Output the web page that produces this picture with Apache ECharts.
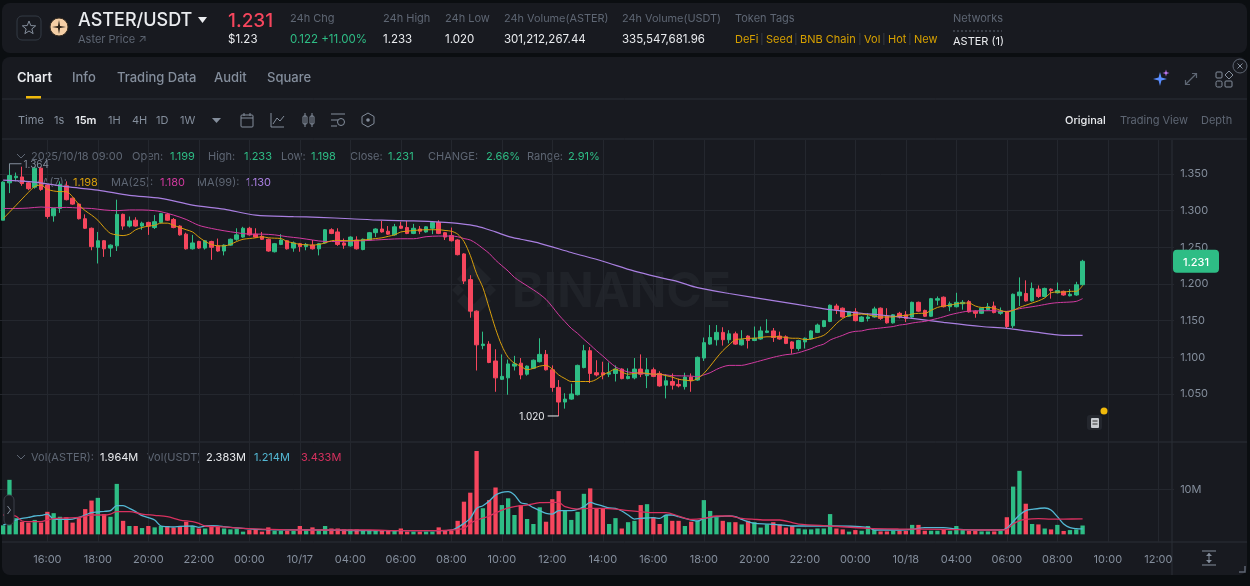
<!DOCTYPE html>
<html><head><meta charset="utf-8">
<style>html,body{margin:0;padding:0;background:#0b0e11;overflow:hidden}#c{width:1250px;height:586px}</style>
<script src="https://cdn.jsdelivr.net/npm/echarts@6/dist/echarts.min.js"></script>
</head><body><div id="c"></div>
<script>
const opens=[1.287,1.338,1.345,1.346,1.338,1.332,1.358,1.335,1.293,1.303,1.334,1.317,1.309,1.289,1.276,1.250,1.259,1.249,1.252,1.295,1.279,1.287,1.279,1.284,1.277,1.284,1.295,1.288,1.279,1.268,1.248,1.258,1.249,1.258,1.252,1.245,1.253,1.261,1.264,1.276,1.268,1.265,1.261,1.244,1.254,1.259,1.249,1.255,1.251,1.253,1.248,1.256,1.274,1.271,1.256,1.252,1.260,1.247,1.260,1.270,1.275,1.272,1.267,1.279,1.277,1.269,1.275,1.271,1.276,1.284,1.270,1.266,1.260,1.241,1.206,1.163,1.116,1.118,1.095,1.070,1.072,1.088,1.092,1.077,1.085,1.094,1.104,1.083,1.059,1.039,1.043,1.049,1.086,1.109,1.079,1.079,1.077,1.078,1.084,1.071,1.072,1.084,1.075,1.083,1.078,1.062,1.067,1.063,1.060,1.073,1.069,1.099,1.118,1.124,1.134,1.124,1.132,1.117,1.129,1.123,1.125,1.134,1.136,1.129,1.128,1.121,1.112,1.121,1.125,1.134,1.142,1.149,1.170,1.167,1.156,1.162,1.149,1.153,1.155,1.167,1.156,1.147,1.160,1.158,1.155,1.175,1.164,1.156,1.178,1.182,1.169,1.169,1.173,1.176,1.163,1.160,1.165,1.170,1.160,1.162,1.143,1.184,1.187,1.177,1.193,1.183,1.193,1.188,1.190,1.184,1.185,1.199];
const closes=[1.339,1.348,1.347,1.337,1.330,1.358,1.329,1.292,1.303,1.336,1.315,1.309,1.289,1.276,1.251,1.259,1.248,1.253,1.295,1.279,1.286,1.279,1.283,1.279,1.285,1.296,1.287,1.277,1.267,1.248,1.256,1.249,1.259,1.250,1.245,1.253,1.261,1.267,1.276,1.267,1.264,1.261,1.245,1.255,1.260,1.248,1.256,1.251,1.254,1.248,1.255,1.274,1.269,1.254,1.253,1.264,1.248,1.261,1.270,1.275,1.271,1.268,1.278,1.276,1.269,1.276,1.272,1.278,1.284,1.269,1.264,1.259,1.240,1.204,1.163,1.117,1.118,1.093,1.072,1.074,1.091,1.091,1.076,1.088,1.096,1.104,1.083,1.059,1.039,1.043,1.050,1.089,1.109,1.078,1.076,1.076,1.079,1.084,1.071,1.074,1.084,1.077,1.083,1.074,1.061,1.068,1.062,1.061,1.073,1.068,1.100,1.120,1.127,1.134,1.124,1.132,1.118,1.124,1.123,1.126,1.136,1.136,1.127,1.125,1.119,1.112,1.123,1.126,1.136,1.144,1.150,1.171,1.165,1.155,1.162,1.150,1.155,1.155,1.166,1.153,1.147,1.158,1.155,1.153,1.175,1.163,1.156,1.180,1.180,1.169,1.173,1.175,1.175,1.162,1.160,1.167,1.169,1.161,1.163,1.142,1.186,1.189,1.177,1.194,1.183,1.194,1.191,1.191,1.185,1.186,1.199,1.231];
const lows=[1.287,1.324,1.340,1.334,1.328,1.330,1.327,1.289,1.285,1.297,1.314,1.308,1.288,1.275,1.246,1.228,1.237,1.237,1.245,1.274,1.277,1.278,1.274,1.267,1.275,1.283,1.286,1.276,1.266,1.247,1.247,1.248,1.247,1.233,1.244,1.239,1.252,1.259,1.263,1.266,1.263,1.260,1.244,1.243,1.253,1.247,1.244,1.244,1.246,1.247,1.239,1.255,1.268,1.252,1.248,1.251,1.247,1.246,1.259,1.264,1.270,1.267,1.266,1.275,1.268,1.268,1.268,1.270,1.268,1.268,1.260,1.258,1.239,1.200,1.154,1.082,1.111,1.092,1.053,1.069,1.049,1.082,1.070,1.075,1.084,1.093,1.082,1.053,1.020,1.030,1.042,1.048,1.085,1.065,1.074,1.070,1.073,1.067,1.070,1.070,1.070,1.073,1.058,1.073,1.060,1.044,1.056,1.059,1.056,1.053,1.068,1.095,1.117,1.116,1.116,1.119,1.117,1.116,1.112,1.122,1.124,1.133,1.121,1.124,1.118,1.105,1.109,1.112,1.124,1.133,1.141,1.148,1.159,1.154,1.155,1.149,1.148,1.149,1.154,1.151,1.146,1.146,1.153,1.148,1.154,1.162,1.155,1.155,1.171,1.168,1.163,1.168,1.165,1.161,1.154,1.159,1.164,1.160,1.158,1.139,1.140,1.170,1.176,1.176,1.181,1.182,1.180,1.187,1.184,1.183,1.184,1.198];
const highs=[1.340,1.364,1.352,1.360,1.340,1.360,1.360,1.336,1.304,1.340,1.340,1.318,1.310,1.295,1.277,1.271,1.260,1.254,1.315,1.296,1.292,1.291,1.285,1.285,1.294,1.297,1.297,1.290,1.280,1.270,1.267,1.259,1.260,1.259,1.262,1.254,1.262,1.276,1.278,1.278,1.276,1.271,1.262,1.256,1.268,1.260,1.258,1.256,1.256,1.260,1.256,1.275,1.276,1.276,1.262,1.265,1.265,1.262,1.271,1.276,1.286,1.279,1.282,1.285,1.286,1.282,1.279,1.279,1.285,1.287,1.271,1.277,1.261,1.242,1.212,1.164,1.135,1.122,1.111,1.104,1.097,1.102,1.099,1.089,1.097,1.126,1.110,1.089,1.069,1.051,1.064,1.090,1.117,1.114,1.096,1.094,1.093,1.089,1.085,1.085,1.099,1.104,1.099,1.086,1.081,1.077,1.078,1.071,1.079,1.078,1.101,1.127,1.144,1.144,1.141,1.137,1.135,1.137,1.130,1.142,1.142,1.152,1.140,1.135,1.130,1.122,1.124,1.127,1.137,1.146,1.151,1.172,1.173,1.168,1.163,1.167,1.156,1.160,1.169,1.168,1.167,1.159,1.162,1.163,1.176,1.176,1.165,1.181,1.183,1.183,1.176,1.188,1.178,1.178,1.164,1.168,1.174,1.176,1.168,1.163,1.187,1.209,1.205,1.202,1.198,1.195,1.194,1.202,1.191,1.193,1.203,1.233];
const volumes=[2.0,12.1,3.6,2.8,2.6,3.2,2.6,5.0,4.7,3.9,3.8,2.6,3.6,5.6,7.5,8.1,4.5,3.9,11.2,3.0,1.85,1.85,1.4,1.85,1.55,1.85,1.85,1.5,1.85,2.8,1.85,1.3,1.3,1.7,1.7,1.3,1.1,1.25,0.6,0.95,1.1,0.6,1.55,0.8,0.8,0.8,0.8,1.85,1.1,1.55,0.95,1.85,1.3,1.3,1.1,1.1,1.1,0.8,0.8,0.8,0.8,0.8,0.8,1.3,0.6,0.6,0.6,0.6,0.6,1.55,0.8,0.8,3.0,7.25,9.25,18.5,5.8,7.6,10.4,6.5,8.0,4.3,6.5,3.4,2.3,6.0,2.8,7.8,9.6,5.4,3.2,5.0,9.0,10.2,5.8,5.8,2.3,3.6,1.3,2.7,3.0,6.5,6.7,3.8,2.3,4.3,3.0,3.0,1.85,2.8,3.0,7.6,5.2,3.8,3.0,2.7,2.7,2.2,3.0,2.7,1.5,2.2,2.7,2.2,1.5,1.85,1.3,1.1,1.1,1.3,1.3,4.5,1.3,1.1,0.6,0.95,0.8,1.85,0.95,0.65,0.65,0.8,0.8,0.8,2.1,2.1,0.8,0.8,0.8,1.1,0.8,1.85,0.95,0.8,0.8,0.65,0.65,0.65,0.8,3.8,10.6,14.1,6.8,2.3,2.2,1.3,1.1,2.1,0.75,0.95,1.1,1.96];
// moving-average readings: [bar number, value]
const ma7=[[0,1.289],[1,1.298],[2,1.307],[3,1.316],[4,1.325],[5,1.333],[6,1.335],[7,1.329],[9,1.326],[10,1.326],[11,1.319],[12,1.308],[13,1.300],[14,1.294],[15,1.287],[16,1.277],[17,1.269],[18,1.267],[19,1.266],[20,1.268],[21,1.274],[22,1.277],[23,1.279],[24,1.280],[25,1.283],[26,1.283],[27,1.280],[28,1.277],[29,1.274],[30,1.271],[31,1.264],[32,1.258],[33,1.254],[34,1.252],[35,1.252],[36,1.254],[37,1.258],[38,1.261],[39,1.262],[40,1.263],[41,1.2645],[42,1.263],[43,1.2625],[44,1.262],[45,1.258],[46,1.256],[47,1.254],[48,1.2535],[49,1.253],[50,1.254],[51,1.256],[52,1.259],[53,1.2595],[55,1.259],[57,1.260],[58,1.261],[59,1.262],[60,1.263],[61,1.265],[62,1.267],[63,1.271],[64,1.272],[65,1.273],[67,1.274],[69,1.274],[70,1.273],[71,1.272],[72,1.268],[73,1.258],[74,1.239],[75,1.214],[76,1.195],[77,1.167],[78,1.139],[79,1.116],[80,1.100],[81,1.092],[82,1.088],[83,1.083],[84,1.085],[85,1.088],[86,1.089],[87,1.084],[88,1.076],[89,1.071],[90,1.067],[93,1.067],[94,1.070],[95,1.076],[96,1.080],[97,1.084],[98,1.080],[99,1.077],[100,1.078],[101,1.079],[102,1.078],[103,1.077],[104,1.077],[105,1.075],[106,1.073],[107,1.070],[108,1.069],[109,1.068],[110,1.071],[111,1.078],[112,1.088],[113,1.099],[114,1.109],[115,1.117],[116,1.124],[117,1.125],[118,1.126],[119,1.126],[120,1.127],[121,1.128],[123,1.128],[124,1.127],[125,1.126],[126,1.126],[127,1.124],[128,1.125],[129,1.127],[130,1.130],[131,1.137],[132,1.146],[133,1.153],[134,1.157],[135,1.158],[136,1.159],[137,1.158],[138,1.156],[139,1.155],[141,1.155],[142,1.157],[143,1.157],[144,1.159],[145,1.160],[146,1.160],[147,1.164],[148,1.168],[149,1.170],[150,1.171],[151,1.173],[152,1.174],[153,1.174],[154,1.170],[155,1.168],[156,1.168],[157,1.167],[158,1.164],[159,1.162],[160,1.164],[161,1.168],[162,1.171],[163,1.174],[164,1.177],[165,1.181],[166,1.188],[167,1.189],[168,1.189],[169,1.190],[170,1.190],[171,1.198]];
const ma25=[[0,1.303],[2,1.303],[4,1.3036],[6,1.305],[8,1.304],[10,1.3045],[12,1.3036],[14,1.303],[16,1.301],[18,1.300],[20,1.301],[22,1.301],[24,1.300],[25,1.2986],[27,1.294],[29,1.288],[31,1.280],[33,1.2758],[35,1.2726],[37,1.270],[39,1.268],[41,1.268],[43,1.267],[45,1.2645],[47,1.2626],[49,1.260],[51,1.258],[53,1.258],[55,1.2585],[57,1.259],[59,1.260],[61,1.261],[63,1.2617],[65,1.2617],[67,1.2645],[69,1.2654],[71,1.2654],[72,1.2645],[73,1.262],[74,1.260],[75,1.255],[76,1.2485],[77,1.2417],[78,1.2326],[79,1.225],[80,1.2176],[81,1.209],[82,1.203],[84,1.192],[85,1.186],[86,1.179],[87,1.169],[88,1.158],[89,1.1486],[90,1.1395],[91,1.1326],[92,1.1245],[93,1.117],[94,1.109],[95,1.1017],[96,1.094],[97,1.087],[98,1.083],[99,1.080],[100,1.079],[101,1.078],[103,1.077],[105,1.076],[106,1.075],[109,1.0744],[110,1.0735],[111,1.076],[112,1.079],[113,1.0835],[114,1.087],[115,1.089],[117,1.089],[118,1.0908],[119,1.093],[120,1.0954],[121,1.0977],[122,1.100],[123,1.102],[124,1.1036],[125,1.1045],[126,1.1063],[127,1.109],[128,1.1118],[129,1.1154],[130,1.118],[131,1.1236],[132,1.127],[133,1.130],[134,1.1336],[135,1.1354],[136,1.136],[137,1.138],[138,1.139],[139,1.140],[140,1.141],[141,1.142],[142,1.144],[143,1.145],[144,1.1468],[145,1.148],[146,1.149],[147,1.151],[148,1.153],[149,1.1554],[150,1.158],[151,1.160],[152,1.1618],[153,1.163],[157,1.1636],[158,1.1627],[159,1.1627],[160,1.1645],[161,1.1663],[162,1.1677],[163,1.169],[164,1.1704],[165,1.172],[166,1.1736],[167,1.1745],[168,1.175],[169,1.1754],[170,1.1763],[171,1.180]];
const ma99=[[0,1.3418],[5,1.339],[10,1.3327],[15,1.328],[20,1.321],[25,1.3168],[30,1.3077],[35,1.302],[40,1.294],[46,1.292],[50,1.291],[55,1.289],[60,1.287],[65,1.286],[70,1.284],[72,1.2827],[75,1.279],[78,1.271],[80,1.265],[82,1.261],[85,1.2555],[90,1.243],[95,1.231],[100,1.2175],[105,1.207],[107,1.203],[110,1.195],[115,1.187],[123,1.176],[128,1.169],[131,1.165],[136,1.160],[139,1.1577],[144,1.153],[149,1.1477],[155,1.142],[159,1.1395],[163,1.135],[168,1.130],[171,1.130]];
const volMaBlue=[[0,2.07],[2,3.18],[3,3.55],[4,3.77],[5,4.07],[6,4.2],[7,4.5],[8,3.4],[10,3.33],[11,3.4],[12,3.77],[13,4.29],[14,4.81],[15,4.96],[16,5.1],[17,5.25],[18,6.36],[19,6.36],[20,5.77],[21,5.03],[22,4.14],[23,3.7],[24,3.18],[25,1.85],[26,1.7],[27,1.63],[28,1.78],[30,1.85],[31,1.55],[32,1.85],[33,1.92],[34,1.85],[35,1.7],[36,1.55],[40,1.11],[50,0.96],[60,0.81],[69,0.81],[71,0.96],[72,1.55],[73,2.44],[74,3.55],[75,5.77],[76,6.36],[77,7.4],[78,8.73],[79,9.32],[80,9.47],[81,8.73],[82,7.03],[83,6.73],[84,5.92],[85,5.25],[86,4.66],[87,4.51],[88,5.25],[90,5.25],[91,5.55],[92,6.14],[93,7.1],[94,6.66],[95,6.29],[96,5.85],[97,5.77],[98,5.18],[99,4.29],[100,3.4],[101,3.55],[103,3.7],[104,3.55],[105,4.29],[106,4.29],[107,3.92],[108,3.55],[109,3.18],[110,2.96],[111,3.55],[112,3.77],[113,3.92],[114,4.0],[115,4.07],[116,3.92],[117,3.33],[118,2.81],[119,2.44],[121,2.29],[122,2.22],[123,2.07],[124,2.0],[125,1.85],[131,1.85],[137,1.55],[138,0.96],[142,0.96],[144,1.11],[146,1.48],[149,1.48],[151,1.18],[155,0.96],[158,0.96],[159,1.33],[160,2.81],[161,4.29],[162,5.25],[163,5.55],[165,5.85],[166,5.4],[167,3.92],[168,2.29],[169,1.48],[170,1.26],[171,1.214]];
const volMaPink=[[0,4.29],[2,4.07],[3,2.96],[4,2.81],[6,2.81],[7,3.18],[8,3.48],[10,3.63],[12,3.77],[14,4.29],[16,4.29],[17,4.51],[18,5.03],[20,5.03],[22,4.51],[24,4.22],[26,3.92],[28,3.18],[30,2.81],[31,2.44],[32,1.85],[34,1.7],[36,1.55],[38,1.33],[42,1.11],[47,0.96],[58,0.96],[63,0.81],[69,0.81],[71,0.96],[73,1.33],[74,2.44],[75,3.18],[77,4.07],[79,5.4],[81,6.14],[83,6.51],[85,7.03],[88,7.1],[89,6.14],[91,5.62],[93,5.77],[95,5.77],[97,5.62],[99,5.25],[101,5.03],[103,4.81],[105,4.81],[107,4.07],[109,3.33],[111,3.55],[113,4.07],[115,4.07],[117,3.55],[119,3.33],[121,3.18],[123,3.18],[125,2.59],[126,2.29],[131,1.85],[137,1.33],[142,1.18],[149,1.11],[155,0.96],[158,0.96],[159,1.11],[160,2.29],[161,3.03],[162,3.33],[164,3.48],[166,3.4],[168,3.4],[171,3.433]];
const tickLabels=['16:00','18:00','20:00','22:00','00:00','10/17','04:00','06:00','08:00','10:00','12:00','14:00','16:00','18:00','20:00','22:00','00:00','10/18','04:00','06:00','08:00','10:00','12:00'];
const priceTicks=[1.05,1.10,1.15,1.20,1.25,1.30,1.35];
const volTicks=[10];
const tokenTags=[['DeFi',735],['Seed',766],['BNB Chain',800],['Vol',864],['Hot',888],['New',914]];
const timeframes=[['Time',18,'#848e9c'],['1s',54,'#848e9c'],['15m',75,'#eaecef'],['1H',108,'#848e9c'],['4H',132,'#848e9c'],['1D',156,'#848e9c'],['1W',180,'#848e9c']];
const categories=[];for(let i=0;i<186;i++)categories.push('bar '+i);

const UP='#2EBD85',DOWN='#F6465D',GRID='#24272e',LINE='#2b2f36',DIM='#5e6673',MID='#848e9c',WHITE='#eaecef',BG='#181a20';
const FF='Inter, "Noto Sans", sans-serif';
const T=(x,y,text,fill,size=11,weight=400,align='left')=>({type:'text',silent:true,style:{x,y:y+1,text,fill,font:`${weight} ${size}px ${FF}`,textAlign:align,textVerticalAlign:'middle'}});
const L=(pts,stroke=MID,lw=1)=>({type:'polyline',silent:true,shape:{points:pts},style:{stroke,lineWidth:lw,fill:null}});
const R=(x,y,width,height,r,fill,stroke)=>({type:'rect',silent:true,shape:{x,y,width,height,r},style:{fill:fill||null,stroke:stroke||null,lineWidth:1}});
const C=(cx,cy,r,fill,stroke)=>({type:'circle',silent:true,shape:{cx,cy,r},style:{fill:fill||null,stroke:stroke||null,lineWidth:1}});
const P=(pts,fill,stroke)=>({type:'polygon',silent:true,shape:{points:pts},style:{fill:fill||null,stroke:stroke||null,lineWidth:1}});
const starPts=(cx,cy,r1,r2,n)=>{const a=[];for(let i=0;i<n*2;i++){const r=i%2?r2:r1,t=-Math.PI/2+i*Math.PI/n;a.push([cx+r*Math.cos(t),cy+r*Math.sin(t)]);}return a;};

const g=[
 R(2,3,1245,50,8,BG), R(2,57,1245,518,8,BG),
 // header
 R(17,16,24,24,5,null,'#333a44'), P(starPts(29,28,7,3,5),null,'#848e9c'),
 C(59,27,9,'#f5cfa6','#3a3024'), P(starPts(59,27,7,1.5,4),'#2a2118'),
 T(78,20,'ASTER/USDT',WHITE,18,500), P([[198,17],[207,17],[202.5,23]],WHITE),
 T(78,39,'Aster Price ↗',DIM,11),
 T(228,20,'1.231',DOWN,19,500), T(228,39,'$1.23',WHITE,11.5),
 T(290,18,'24h Chg',DIM,11), T(290,39,'0.122 +11.00%',UP,11.5),
 T(383,18,'24h High',DIM,11), T(383,39,'1.233',WHITE,11.5),
 T(445,18,'24h Low',DIM,11), T(445,39,'1.020',WHITE,11.5),
 T(504,18,'24h Volume(ASTER)',DIM,10.9), T(504,39,'301,212,267.44',WHITE,11.5),
 T(622,18,'24h Volume(USDT)',DIM,10.9), T(622,39,'335,547,681.96',WHITE,11.5),
 T(735,18,'Token Tags',DIM,11),
 T(953,18,'Networks',DIM,11), T(953,41,'ASTER (1)',WHITE,11),
 {type:'line',silent:true,shape:{x1:953,y1:31,x2:1002,y2:31},style:{stroke:DIM,lineDash:[2,2],lineWidth:1}},
 // tabs
 T(17,77,'Chart',WHITE,13,600), T(72,77,'Info',MID,13,500), T(117,77,'Trading Data',MID,13,500), T(214,77,'Audit',MID,13,500), T(267,77,'Square',MID,13,500),
 R(26,96,15,3,0,'#f0b90b'),
 L([[2,99],[1247,99]],LINE), L([[2,139],[1247,139]],LINE),
 // toolbar
 P([[212,118],[221,118],[216.5,123]],MID),
 R(241,115,12,12,1,null,MID), L([[241,118],[253,118]],MID), L([[244,113],[244,116]],MID), L([[250,113],[250,116]],MID),
 L([[271,113],[271,127],[284,127]],MID), L([[273,124],[277,118],[280,121],[284,116]],MID),
 R(303,116,4,8,1,null,MID), L([[305,113],[305,127]],MID), R(310,116,4,8,1,null,MID), L([[312,113],[312,127]],MID),
 L([[331,114],[345,114]],MID), L([[331,120],[338,120]],MID), L([[331,126],[337,126]],MID), C(341,122,3.5,null,MID),
 P([[368,113],[374,116.5],[374,123.5],[368,127],[362,123.5],[362,116.5]],null,MID), C(368,120,1.8,MID),
 T(1065,119.5,'Original',WHITE,11,500), T(1120,119.5,'Trading View',DIM,11), T(1201,119.5,'Depth',DIM,11),
 // top right icons
 P(starPts(1160,79,7,2,4),'#5a8dff'), P(starPts(1166,73,3.5,1,4),'#c77dff'),
 L([[1186,84],[1196,74]],'#5e6673',1.2), L([[1192,73.5],[1196.5,73.5],[1196.5,78]],'#5e6673',1.2), L([[1185.5,80],[1185.5,84.5],[1190,84.5]],'#5e6673',1.2),
 R(1216,72,6,6,1,null,MID), P([[1229,71],[1233,75],[1229,79],[1225,75]],null,MID), R(1216,81,6,6,1.5,null,MID), R(1225,81,7,6,1,null,MID),
 C(1240,66,7,BG,DIM), L([[1237.5,63.5],[1242.5,68.5]],MID), L([[1242.5,63.5],[1237.5,68.5]],MID),
 // watermark
 P([[452,290],[458,284],[464,290],[458,296]],'#202329'), P([[484,290],[490,284],[496,290],[490,296]],'#202329'),
 P([[474,262],[491,279],[484,286],[474,276],[464,286],[457,279]],'#202329'), P([[474,318],[491,301],[484,294],[474,304],[464,294],[457,301]],'#202329'),
 T(512,292,'BINANCE','#202329',48,700),
 // separators
 L([[1172,140],[1172,575]],LINE), L([[2,442],[1247,442]],LINE), L([[2,542],[1247,542]],LINE),
 // legend rows
 T(31,155.5,'2025/10/18 09:00',DIM,11), T(132,155.5,'Open:',DIM,11), T(170,155.5,'1.199',UP,11), T(208,155.5,'High:',DIM,11), T(244,155.5,'1.233',UP,11),
 T(281,155.5,'Low:',DIM,11), T(311,155.5,'1.198',UP,11), T(350,155.5,'Close:',DIM,11), T(388,155.5,'1.231',UP,11),
 T(428,155.5,'CHANGE:',DIM,11), T(486,155.5,'2.66%',UP,11), T(527,155.5,'Range:',DIM,11), T(568,155.5,'2.91%',UP,11),
 L([[17,154],[21,158],[25,154]],DIM), L([[17,180],[21,184],[25,180]],DIM), L([[17,455],[21,459],[25,455]],DIM),
 T(32,181.5,'MA(7):',DIM,11), T(73,181.5,'1.198','#d89f0c',11), T(111,181.5,'MA(25):',DIM,11), T(160,181.5,'1.180','#d23aa0',11), T(197,181.5,'MA(99):',DIM,11), T(246,181.5,'1.130','#a97fe0',11),
 T(31,457,'Vol(ASTER):',DIM,11), T(100,457,'1.964M',WHITE,11), T(147,457,'Vol(USDT)',DIM,11), T(206,457,'2.383M',WHITE,11), T(254,457,'1.214M','#53b8d4',11), T(301,457,'3.433M','#d8315f',11),
 // side handle, widget, scale button, corner
 {...R(4,495,10,30,5,BG,'#3a3f48'),z:10}, {...L([[7.5,506],[10.5,510],[7.5,514]],MID),z:10},
 R(1087,415,15,15,3,'#24272e'), R(1091,418,8,10,1,'#c9ccd1'), L([[1092.5,421],[1097.5,421]],'#333'), L([[1092.5,424],[1097.5,424]],'#333'), C(1104,411,3.5,'#f0b90b'),
 L([[1202,551],[1216,551]],MID), L([[1202,565],[1216,565]],MID), L([[1209,553],[1209,563]],MID), P([[1209,553],[1212,556],[1206,556]],MID), P([[1209,563],[1212,560],[1206,560]],MID),
 L([[1245,566],[1245,572],[1239,572]],DIM,1.5)
];
timeframes.forEach(([t,x,c])=>g.push(T(x,119.5,t,c,11,c===WHITE?600:400)));
tokenTags.forEach(([t,x],i)=>{g.push(T(x,39,t,'#d6a000',11));if(i)g.push(T(x-4,39,'|','#3c4048',10,400,'center'));});

const isTick=(i)=>i>=7&&(i-7)%8===0;
const chart=echarts.init(document.getElementById('c'),null,{renderer:'canvas'});
const xBase={type:'category',z:1,data:categories,boundaryGap:true,axisTick:{show:false},axisLine:{show:false},
  splitLine:{show:true,alignWithLabel:true,interval:(i)=>isTick(i),lineStyle:{color:GRID,width:1}}};
chart.setOption({
 animation:false,backgroundColor:'#0b0e11',
 grid:[{left:0,top:140,width:1174.125,height:302},{left:0,top:442,width:1174.125,height:100}],
 xAxis:[{...xBase,gridIndex:0,axisLabel:{show:false}},
  {...xBase,gridIndex:1,axisLabel:{show:true,interval:(i)=>isTick(i),formatter:(v,i)=>tickLabels[(i-7)/8]||'',color:MID,fontFamily:FF,fontSize:11,margin:12}}],
 yAxis:[
  {type:'value',z:1,gridIndex:0,position:'right',min:0.9845,max:1.3964,offset:-2,
   axisLine:{show:false},axisTick:{show:false,customValues:priceTicks},
   axisLabel:{customValues:priceTicks,margin:8,color:MID,fontFamily:FF,fontSize:11,padding:[4,0,0,0],formatter:v=>v.toFixed(3)},
   splitLine:{show:true,lineStyle:{color:GRID,width:1}}},
  {type:'value',z:1,gridIndex:1,position:'right',min:-1.7,max:20.5,offset:-2,
   axisLine:{show:false},axisTick:{show:false,customValues:volTicks},
   axisLabel:{customValues:volTicks,margin:8,color:MID,fontFamily:FF,fontSize:11,padding:[4,0,0,0],formatter:v=>v+'M'},
   splitLine:{show:true,lineStyle:{color:GRID,width:1}}}
 ],
 series:[
  {type:'candlestick',xAxisIndex:0,yAxisIndex:0,barWidth:4,z:3,
   data:opens.map((o,i)=>[o,closes[i],lows[i],highs[i]]),
   itemStyle:{color:UP,color0:DOWN,borderColor:UP,borderColor0:DOWN,borderWidth:1}},
  {type:'line',xAxisIndex:0,yAxisIndex:0,data:ma99,showSymbol:false,smooth:0.3,z:4,lineStyle:{color:'#a97fe0',width:1.2}},
  {type:'line',xAxisIndex:0,yAxisIndex:0,data:ma25,showSymbol:false,smooth:0.3,z:4,lineStyle:{color:'#d23aa0',width:1}},
  {type:'line',xAxisIndex:0,yAxisIndex:0,data:ma7,showSymbol:false,smooth:0.3,z:5,lineStyle:{color:'#d89f0c',width:1}},
  {type:'bar',xAxisIndex:1,yAxisIndex:1,barWidth:4.3,z:3,
   data:volumes.map((v,i)=>({value:v,itemStyle:{color:closes[i]>=opens[i]?UP:DOWN}}))},
  {type:'line',xAxisIndex:1,yAxisIndex:1,data:volMaBlue,showSymbol:false,smooth:0.3,z:4,lineStyle:{color:'#53b8d4',width:1.3}},
  {type:'line',xAxisIndex:1,yAxisIndex:1,data:volMaPink,showSymbol:false,smooth:0.3,z:5,lineStyle:{color:'#d8315f',width:1.3}}
 ],
 graphic:{elements:g}
});
// annotations placed through the chart's own scales
const px=(i,v)=>chart.convertToPixel({xAxisIndex:0,yAxisIndex:0},[i,v]);
const last=closes.length-1,[,lastY]=px(last,closes[last]);
const hiI=highs.indexOf(Math.max(...highs)),[hx,hy]=px(hiI,highs[hiI]);
const loI=lows.indexOf(Math.min(...lows)),[lx,ly]=px(loI,lows[loI]);
const extra=[
 {...R(1173,lastY-11.5,46,23,4,UP),z:20},{...T(1196,lastY,closes[last].toFixed(3),'#fff',11,500,'center'),z:21},
 {...L([[hx,hy+6],[hx,hy],[hx+12,hy]],MID),z:20},{...T(hx+14,hy,highs[hiI].toFixed(3),MID,10),z:20},
 {...L([[lx-11,ly],[lx,ly]],WHITE),z:20},{...T(lx-14,ly,lows[loI].toFixed(3),WHITE,10,400,'right'),z:20}
];
chart.setOption({graphic:{elements:g.concat(extra)}},{replaceMerge:['graphic']});
</script></body></html>
